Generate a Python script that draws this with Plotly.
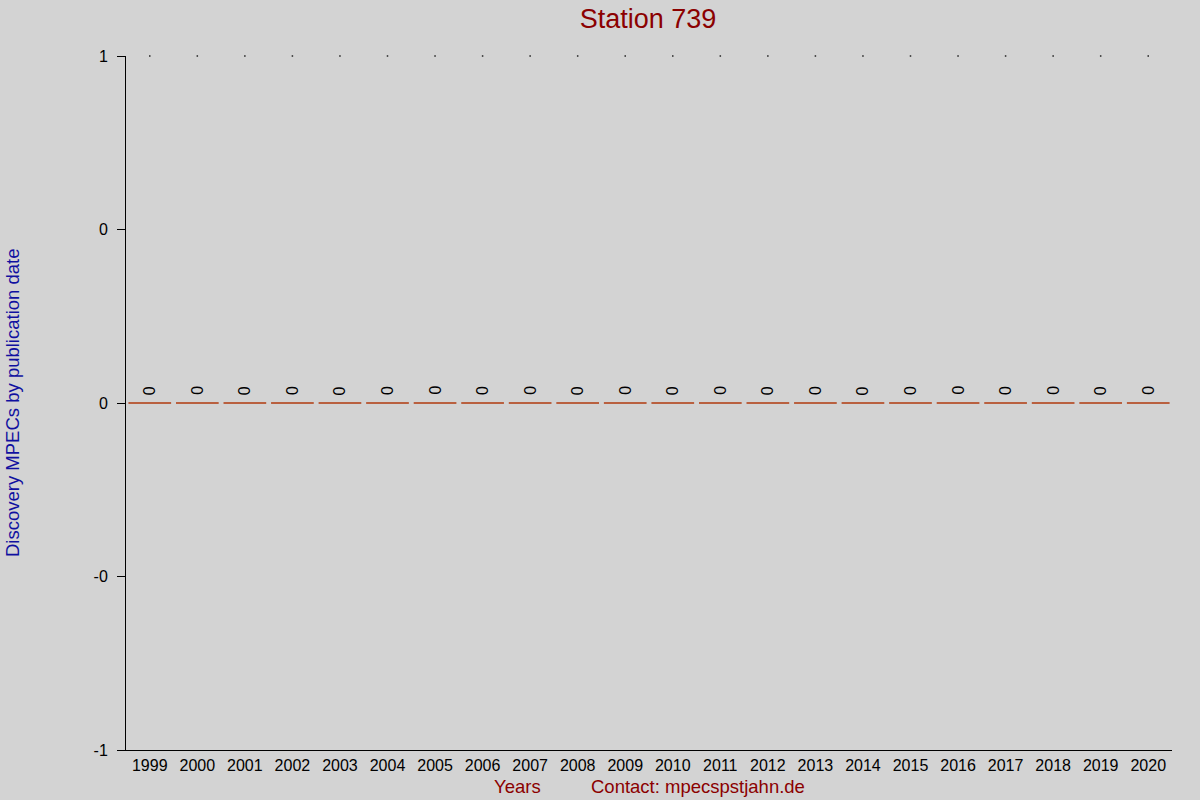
import plotly.graph_objects as go

# data
years = [str(y) for y in range(1999, 2021)]
mpecs = [0] * len(years)
top_marks = [1] * len(years)
ytick_vals = [-1, -0.5, 0, 0.5, 1]
ytick_text = ["-1", "-0", "0", "0", "1"]

FONT = "Liberation Sans, Arial"

fig = go.Figure()

# zero-height bars drawn as horizontal line markers
fig.add_trace(go.Scatter(
    x=years, y=mpecs, mode="markers",
    marker=dict(symbol="line-ew", size=30.5,
                line=dict(color="#b03a0e", width=1.3)),
    hoverinfo="x+y", showlegend=False,
))

# small dots along the top
fig.add_trace(go.Scatter(
    x=years, y=top_marks, mode="markers",
    marker=dict(symbol="square", size=1.5, color="#222222"),
    hoverinfo="skip", showlegend=False, cliponaxis=False,
))

# value labels rotated above each bar (category index as x)
for i, v in enumerate(mpecs):
    fig.add_annotation(
        x=i, y=v, text=str(v), showarrow=False, textangle=-90,
        yanchor="bottom", yshift=6,
        font=dict(family=FONT, size=16, color="black"),
    )

fig.add_annotation(
    text="Discovery MPECs by publication date", xref="paper", yref="paper",
    x=-0.109, y=0.5, xanchor="center", yanchor="middle", textangle=-90,
    showarrow=False,
    font=dict(family=FONT, size=18.5, color="#1010a0"),
)
fig.add_annotation(
    text="Years", xref="paper", yref="paper", x=0.374, y=-0.052,
    xanchor="center", yanchor="middle", showarrow=False,
    font=dict(family=FONT, size=18.5, color="#8b0000"),
)
fig.add_annotation(
    text="Contact: mpecspstjahn.de", xref="paper", yref="paper", x=0.547, y=-0.052,
    xanchor="center", yanchor="middle", showarrow=False,
    font=dict(family=FONT, size=18.5, color="#8b0000"),
)

fig.update_layout(
    width=1200, height=800,
    paper_bgcolor="#d3d3d3", plot_bgcolor="#d3d3d3",
    margin=dict(l=126, r=28, t=56, b=50),
    title=dict(text="Station 739", x=0.54, xanchor="center", y=0.977, yanchor="middle",
               font=dict(family=FONT, size=27, color="#8b0000")),
    font=dict(family=FONT, size=16, color="black"),
    showlegend=False,
)
fig.update_xaxes(
    type="category", range=[-0.5, len(years) - 0.5],
    showgrid=False, zeroline=False, showline=True, linecolor="black", linewidth=1,
    ticks="", tickfont=dict(size=16), ticklabelstandoff=1,
)
fig.update_yaxes(
    range=[-1, 1], tickvals=ytick_vals, ticktext=ytick_text,
    showgrid=False, zeroline=False, showline=True, linecolor="black", linewidth=1,
    ticks="outside", ticklen=8, tickcolor="black", tickfont=dict(size=16),
    ticklabelstandoff=6,
)

fig.write_html("out.html", config={"displayModeBar": False},
               post_script="document.body.style.margin='0px';")
